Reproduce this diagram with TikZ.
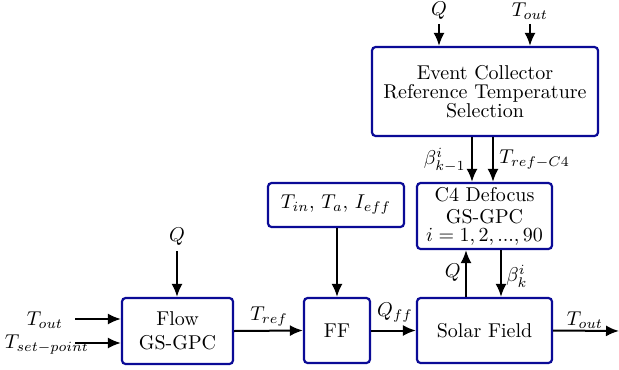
\documentclass[tikz,border=0pt]{standalone}
\usetikzlibrary{arrows.meta,calc}
\definecolor{boxblue}{RGB}{10,10,150}
\begin{document}
\begin{tikzpicture}[x=0.5pt,y=-0.5pt,
  blk/.style={draw=boxblue,line width=1.1pt,rounded corners=1.8pt,fill=white,inner sep=0pt,align=center},
  arr/.style={-{Latex[length=6.5pt,width=5.5pt]},line width=1pt},
  lbl/.style={inner sep=1pt}]
\useasboundingbox (0,0) rectangle (619,369);
% blocks
\node[blk,minimum width=113pt,minimum height=44.5pt] (ec) at (485,91.5) {Event Collector\\[-2.5pt]Reference Temperature\\[-2.5pt]Selection};
\node[blk,minimum width=67.5pt,minimum height=33pt] (c4) at (484.5,216) {C4 Defocus\\[-1pt]GS-GPC\\[-3pt]$i=1,2,...,90$};
\node[blk,minimum width=67.5pt,minimum height=32.5pt] (sf) at (484.5,330.5) {Solar Field};
\node[blk,minimum width=33pt,minimum height=32.5pt] (ff) at (337,330.5) {FF};
\node[blk,minimum width=68pt,minimum height=22pt] (tin) at (336,205) {$T_{in}$, $T_a$, $I_{eff}$};
\node[blk,minimum width=55.5pt,minimum height=33pt] (flow) at (177.5,331) {Flow\\GS-GPC};
% free-end coordinates
\coordinate (ecq) at (439,24);
\coordinate (ect) at (530,24);
\coordinate (flq) at (177,251);
\coordinate (tin1) at (75,319);
\coordinate (tin2) at (75,343);
\coordinate (outp) at (619,331);
% labels
\node[lbl] (lq) at (439,11) {$Q$};
\node[lbl] (lt) at (530,11) {$T_{out}$};
\node[lbl,anchor=east] (lb1) at (468,160) {$\beta^i_{k-1}$};
\node[lbl,anchor=west] (ltr) at (497,160) {$T_{ref-C4}$};
\node[lbl,anchor=east] (lq2) at (463,273) {$Q$};
\node[lbl,anchor=west] (lb2) at (504,276) {$\beta^i_{k}$};
\node[lbl] (lqff) at (395,313) {$Q_{ff}$};
\node[lbl] (ltref) at (269,317) {$T_{ref}$};
\node[lbl] (lfq) at (177,237) {$Q$};
\node[lbl] (ltout1) at (45,320) {$T_{out}$};
\node[lbl] (ltset) at (47,345) {$T_{set-point}$};
\node[lbl] (ltout2) at (585,320) {$T_{out}$};
% connectors
\draw[arr] (ecq) -- (ecq |- ec.north);
\draw[arr] (ect) -- (ect |- ec.north);
\draw[arr] (ec.south -| 472,0) -- (c4.north -| 472,0);
\draw[arr] (ec.south -| 493,0) -- (c4.north -| 493,0);
\draw[arr] (sf.north -| 466,0) -- (c4.south -| 466,0);
\draw[arr] (c4.south -| 501,0) -- (sf.north -| 501,0);
\draw[arr] (tin.south -| ff.north) -- (ff.north);
\draw[arr] (ff.east) -- (sf.west);
\draw[arr] (flow.east) -- (ff.west);
\draw[arr] (flq) -- (flow.north -| flq);
\draw[arr] (tin1) -- (tin1 -| flow.west);
\draw[arr] (tin2) -- (tin2 -| flow.west);
\draw[arr] (sf.east) -- (outp);
\end{tikzpicture}
\end{document}
